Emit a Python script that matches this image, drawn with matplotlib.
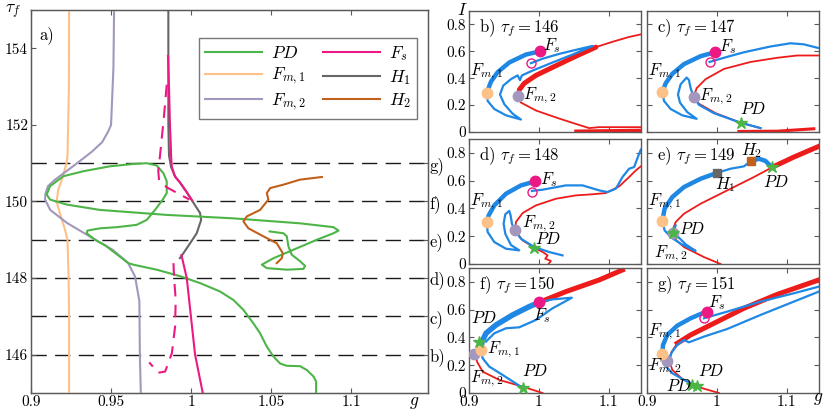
import matplotlib
matplotlib.use('Agg')
import matplotlib.pyplot as plt
from matplotlib.lines import Line2D

plt.rcParams['font.family'] = 'serif'
plt.rcParams['font.serif'] = ['cmr10', 'DejaVu Serif']
plt.rcParams['mathtext.fontset'] = 'cm'
plt.rcParams['axes.formatter.use_mathtext'] = True

# ---------------- panel a data (g, tau_f) ----------------
fm1_g = [0.9238, 0.9237, 0.9232, 0.9228, 0.9222, 0.9195, 0.917, 0.916, 0.918, 0.921, 0.9228, 0.9235, 0.9238, 0.9238]
fm1_tau = [155, 153, 152, 151.2, 151, 150.6, 150.3, 150, 149.7, 149.3, 149, 148, 147, 145]

fm2_g = [0.9519, 0.9515, 0.950, 0.9485, 0.9445, 0.938, 0.9288, 0.915, 0.9106, 0.909, 0.9088, 0.912, 0.9225,
         0.937, 0.951, 0.9606, 0.965, 0.9677, 0.968, 0.9686]
fm2_tau = [155, 153.5, 152, 151.85, 151.55, 151.3, 151, 150.57, 150.4, 150.2, 150.05, 149.78, 149.44,
           149.08, 148.74, 148.4, 148.04, 147.4, 146, 145]

fs_up_g = [0.9856, 0.9862, 0.9868, 0.9873, 0.9875, 0.988, 0.990, 0.993, 0.9975, 1.0006]
fs_up_tau = [153.8, 153, 152, 151.5, 151.2, 150.9, 150.65, 150.5, 150.23, 150.03]
fs_lo_g = [0.994, 0.9973, 1.0025, 1.0073]
fs_lo_tau = [148.6, 148, 146, 145]
fs_dash_up_g = [0.9848, 0.983, 0.9806, 0.9795, 0.980, 0.9848, 0.991, 0.999]
fs_dash_up_tau = [153.05, 152.2, 151.2, 150.8, 150.55, 150.37, 150.23, 150.05]
fs_dash_lo_g = [0.989, 0.9894, 0.9904, 0.990, 0.988, 0.9838, 0.9796, 0.9738]
fs_dash_lo_tau = [148.39, 148.0, 147.43, 146.73, 146.04, 145.56, 145.53, 145.8]

h1_g = [0.9858, 0.9858, 0.9862, 0.9875, 0.990, 0.993, 0.9975, 1.0025, 1.0056, 1.0063, 1.0035, 0.9994, 0.9952, 0.993]
h1_tau = [155, 152, 151.2, 150.9, 150.65, 150.5, 150.23, 149.9, 149.7, 149.52, 149.17, 148.91, 148.65, 148.52]

h2_g = [1.0817, 1.068, 1.0577, 1.0494, 1.0473, 1.0483, 1.0431, 1.0348, 1.0327, 1.0358, 1.0452, 1.0535,
        1.0573, 1.0567, 1.0535]
h2_tau = [150.64, 150.57, 150.44, 150.35, 150.22, 150.05, 149.78, 149.61, 149.48, 149.3, 149.09, 148.91,
          148.65, 148.52, 148.39]

pd_g = [1.0781, 1.0781, 1.0765, 1.0723, 1.0681, 1.0598, 1.0556, 1.0515, 1.0473, 1.0431, 1.0389, 1.0327,
        1.0264, 1.0181, 1.0056, 0.9931, 0.9785, 0.964, 0.9608, 0.9465, 0.9400, 0.9348, 0.9352, 0.9431,
        0.9536, 0.966, 0.9723, 0.9775, 0.9823, 0.9848, 0.9848, 0.9827, 0.9785, 0.9723, 0.964, 0.9494,
        0.9327, 0.9202, 0.9119, 0.9098, 0.9119, 0.9223, 0.9431, 0.9848, 1.0264, 1.0681, 1.0889, 1.0921,
        1.0889, 1.0785, 1.0639, 1.0515, 1.0442, 1.0473, 1.0598, 1.0702, 1.0712, 1.0681, 1.0629, 1.0608,
        1.0598, 1.0577, 1.049]
pd_tau = [145, 145.3, 145.43, 145.6, 145.7, 145.71, 145.77, 145.95, 146.21, 146.56, 146.82, 147.17,
          147.43, 147.65, 147.87, 148.05, 148.22, 148.35, 148.39, 148.85, 149.0, 149.17, 149.24, 149.3,
          149.33, 149.39, 149.52, 149.78, 150.05, 150.22, 150.53, 150.74, 150.94, 151.0, 150.98, 150.92,
          150.79, 150.66, 150.4, 150.18, 150.05, 149.92, 149.78, 149.65, 149.56, 149.43, 149.33, 149.24,
          149.17, 149.0, 148.74, 148.52, 148.35, 148.26, 148.22, 148.24, 148.32, 148.44, 148.61, 148.83,
          149.09, 149.17, 149.22]

cut_tau = [146, 147, 148, 149, 150, 151]
cut_labels = ['b)', 'c)', 'd)', 'e)', 'f)', 'g)']

# ---------------- small panels data (g, I) ----------------
# b) tau_f = 146
b_red_up_g = [0.9695, 0.9719, 0.9790, 0.9957, 1.0195, 1.0529, 1.0814, 1.1052, 1.1290, 1.1457]
b_red_up_I = [0.271, 0.314, 0.362, 0.421, 0.481, 0.564, 0.631, 0.671, 0.707, 0.726]
b_red_lo_g = [0.9695, 0.9743, 0.9957, 1.0290, 1.0529, 1.0719, 1.0862, 1.1457]
b_red_lo_I = [0.271, 0.219, 0.160, 0.100, 0.060, 0.029, 0.036, 0.036]
b_red_bot_g = [1.0529, 1.1457]
b_red_bot_I = [0.006, 0.012]
b_blue_thick_g = [1.0014, 0.9814, 0.9576, 0.9410, 0.9314, 0.9252]
b_blue_thick_I = [0.600, 0.576, 0.517, 0.445, 0.374, 0.290]
b_blue_g = [0.9252, 0.9267, 0.9362, 0.9529, 0.9743, 0.9624, 0.9505, 0.9443, 0.9490, 0.9600, 0.9695,
            0.9729, 0.9757, 0.9910, 1.0195, 1.0481, 1.0767, 1.0576, 1.0290, 1.0052, 0.9886]
b_blue_I = [0.290, 0.231, 0.171, 0.124, 0.093, 0.136, 0.207, 0.279, 0.345, 0.393, 0.421,
            0.386, 0.421, 0.457, 0.517, 0.576, 0.640, 0.617, 0.581, 0.545, 0.512]

# c) tau_f = 147
c_red_up_g = [0.9671, 0.971, 0.9838, 1.01, 1.0481, 1.0862, 1.1148, 1.1457]
c_red_up_I = [0.267, 0.326, 0.393, 0.469, 0.521, 0.552, 0.569, 0.569]
c_red_lo_g = [0.9671, 0.9743, 0.9981, 1.0338, 1.0624]
c_red_lo_I = [0.262, 0.21, 0.14, 0.069, 0.029]
c_red_bot_g = [1.0314, 1.0862, 1.1386]
c_red_bot_I = [0.004, 0.006, 0.024]
c_blue_thick_g = [0.9971, 0.9767, 0.9529, 0.9362, 0.9267, 0.9219]
c_blue_thick_I = [0.593, 0.564, 0.505, 0.433, 0.362, 0.298]
c_blue_g = [0.9219, 0.9243, 0.9338, 0.9505, 0.9710, 0.9576, 0.9471, 0.9443, 0.9481, 0.9567, 0.96,
            0.9624, 0.9662, 0.9743, 0.9957, 1.0338, 1.0624]
c_blue_I = [0.298, 0.231, 0.171, 0.124, 0.098, 0.148, 0.219, 0.279, 0.355, 0.405, 0.386,
            0.326, 0.267, 0.202, 0.140, 0.069, 0.029]
c_blue_top_g = [0.9895, 1.01, 1.0386, 1.0767, 1.1052, 1.1243, 1.1457]
c_blue_top_I = [0.521, 0.552, 0.593, 0.636, 0.660, 0.652, 0.624]

# d) tau_f = 148
d_red_up_g = [0.9662, 0.9671, 0.9767, 0.9957, 1.0243, 1.0529, 1.0767, 1.0957, 1.1148, 1.129, 1.1386, 1.1457]
d_red_up_I = [0.242, 0.302, 0.367, 0.422, 0.470, 0.494, 0.502, 0.511, 0.559, 0.626, 0.674, 0.703]
d_red_lo_g = [0.9662, 0.9767, 0.9933, 1.0062, 1.0124, 1.009, 1.0171, 1.0138]
d_red_lo_I = [0.238, 0.170, 0.118, 0.084, 0.062, 0.038, 0.022, 0.0]
d_blue_thick_g = [0.9948, 0.9743, 0.9529, 0.9362, 0.9281, 0.9252]
d_blue_thick_I = [0.595, 0.566, 0.506, 0.422, 0.350, 0.302]
d_blue_g = [0.9252, 0.9267, 0.9362, 0.9529, 0.9719, 0.96, 0.9519, 0.9495, 0.9519, 0.9576, 0.9595,
            0.9614, 0.9652, 0.9743, 0.9933, 1.0148, 1.0338]
d_blue_I = [0.302, 0.230, 0.158, 0.110, 0.098, 0.137, 0.218, 0.290, 0.358, 0.382, 0.350,
            0.290, 0.242, 0.182, 0.122, 0.086, 0.062]
d_blue_top_g = [0.99, 1.0052, 1.0386, 1.0624, 1.0862, 1.0981, 1.11, 1.1195, 1.129, 1.1362, 1.1433, 1.1457]
d_blue_top_I = [0.526, 0.535, 0.566, 0.566, 0.530, 0.518, 0.542, 0.626, 0.686, 0.698, 0.794, 0.823]

# e) tau_f = 149
e_red_g = [1.0052, 0.9814, 0.9529, 0.9395, 0.9362, 0.941, 0.9529, 0.9767, 1.0148, 1.0529, 1.0781, 1.11, 1.1457]
e_red_I = [0.0, 0.050, 0.122, 0.182, 0.238, 0.302, 0.362, 0.434, 0.530, 0.626, 0.694, 0.770, 0.847]
e_blue_thick_g = [0.9219, 0.9252, 0.9362, 0.9529, 0.9767, 0.9995]
e_blue_thick_I = [0.310, 0.398, 0.482, 0.554, 0.614, 0.655]
e_blue_mid_g = [0.9995, 1.0195, 1.0386, 1.0481]
e_blue_mid_I = [0.655, 0.686, 0.703, 0.739]
e_blue_thick2_g = [1.0481, 1.06, 1.0695, 1.0781]
e_blue_thick2_I = [0.739, 0.758, 0.742, 0.698]
e_blue_lo_g = [0.9219, 0.9252, 0.9338, 0.9481, 0.9624, 0.9695, 0.9552, 0.9433, 0.9395, 0.941]
e_blue_lo_I = [0.310, 0.242, 0.194, 0.146, 0.110, 0.094, 0.142, 0.202, 0.254, 0.278]

# f) tau_f = 150
f_red_g = [1.0052, 0.9767, 0.9433, 0.9195, 0.9114, 0.91, 0.9148, 0.9267, 0.9481, 0.9767, 1.0005,
           1.0386, 1.0862, 1.1195]
f_red_I = [0.0, 0.046, 0.094, 0.154, 0.226, 0.293, 0.358, 0.430, 0.514, 0.598, 0.653, 0.730, 0.814, 0.886]
f_blue_thick_g = [0.9171, 0.9186, 0.9243, 0.9386, 0.9624, 0.9862, 1.0005]
f_blue_thick_I = [0.31, 0.370, 0.430, 0.490, 0.562, 0.622, 0.653]
f_blue_loop_g = [1.0005, 1.0195, 1.0471, 1.0386, 1.0195, 0.9957, 0.9719, 0.9529, 0.9362, 0.9243]
f_blue_loop_I = [0.653, 0.674, 0.686, 0.662, 0.610, 0.526, 0.473, 0.466, 0.430, 0.370]
f_blue_lo_g = [0.9171, 0.9195, 0.929, 0.9481, 0.9776]
f_blue_lo_I = [0.31, 0.250, 0.190, 0.130, 0.034]

# g) tau_f = 151
g_red_g = [1.0029, 0.9767, 0.9505, 0.9362, 0.9324, 0.9348, 0.9433, 0.9624, 0.991, 1.0386, 1.0862, 1.1457]
g_red_I = [0.0, 0.038, 0.101, 0.166, 0.226, 0.293, 0.358, 0.418, 0.490, 0.610, 0.710, 0.814]
g_blue_thick_g = [0.9219, 0.9229, 0.929, 0.9433, 0.9624, 0.979, 0.9862]
g_blue_thick_I = [0.278, 0.346, 0.418, 0.485, 0.538, 0.574, 0.586]
g_blue_a_g = [0.9814, 1.0148, 1.0624, 1.11, 1.1457]
g_blue_a_I = [0.538, 0.586, 0.658, 0.718, 0.766]
g_blue_b_g = [0.929, 0.9362, 0.9433, 0.9529, 0.96, 0.9814, 1.0148, 1.0624, 1.11, 1.1457]
g_blue_b_I = [0.230, 0.298, 0.346, 0.382, 0.365, 0.406, 0.461, 0.562, 0.658, 0.730]
g_blue_lo_g = [0.9219, 0.9252, 0.9362, 0.9529, 0.9671, 0.9757]
g_blue_lo_I = [0.278, 0.202, 0.142, 0.094, 0.058, 0.043]

# special points per panel: (g, I)
pts = {
    'b': dict(Fs=(1.0014, 0.60), Fso=(0.9886, 0.512), Fm1=(0.9252, 0.29), Fm2=(0.9695, 0.271)),
    'c': dict(Fs=(0.9971, 0.593), Fso=(0.9895, 0.521), Fm1=(0.9219, 0.298), Fm2=(0.9671, 0.262),
              PD=[(1.0338, 0.069)]),
    'd': dict(Fs=(0.9948, 0.595), Fso=(0.99, 0.522), Fm1=(0.9252, 0.302), Fm2=(0.9652, 0.242),
              PD=[(0.9933, 0.115)]),
    'e': dict(Fm1=(0.9219, 0.31), Fm2=(0.9376, 0.22), H1=(0.9995, 0.655), H2=(1.0481, 0.742),
              PD=[(0.9376, 0.22), (1.0781, 0.698)]),
    'f': dict(Fs=(1.0005, 0.653), Fm1=(0.9171, 0.31), Fm2=(0.9076, 0.281),
              PD=[(0.9148, 0.37), (0.9776, 0.034)]),
    'g': dict(Fs=(0.9862, 0.586), Fso=(0.9814, 0.538), Fm1=(0.9219, 0.278), Fm2=(0.929, 0.230),
              PD=[(0.9648, 0.058), (0.9719, 0.053)]),
}
panel_tau = {'b': 146, 'c': 147, 'd': 148, 'e': 149, 'f': 150, 'g': 151}

# label positions (g, I, text)
labels = {
    'b': [(1.006, 0.645, r'$F_s$'), (0.902, 0.45, r'$F_{m,1}$'), (0.977, 0.27, r'$F_{m,2}$')],
    'c': [(1.003, 0.635, r'$F_s$'), (0.902, 0.45, r'$F_{m,1}$'), (0.974, 0.26, r'$F_{m,2}$'),
          (1.033, 0.17, r'$PD$')],
    'd': [(1.002, 0.605, r'$F_s$'), (0.902, 0.45, r'$F_{m,1}$'), (0.976, 0.29, r'$F_{m,2}$'),
          (0.995, 0.18, r'$PD$')],
    'e': [(1.034, 0.82, r'$H_2$'), (0.9975, 0.57, r'$H_1$'), (1.066, 0.59, r'$PD$'),
          (0.902, 0.45, r'$F_{m,1}$'), (0.946, 0.255, r'$PD$'), (0.910, 0.075, r'$F_{m,2}$')],
    'f': [(0.991, 0.56, r'$F_s$'), (0.903, 0.54, r'$PD$'), (0.926, 0.31, r'$F_{m,1}$'),
          (0.902, 0.10, r'$F_{m,2}$'), (0.976, 0.155, r'$PD$')],
    'g': [(0.987, 0.65, r'$F_s$'), (0.902, 0.44, r'$F_{m,1}$'), (0.902, 0.19, r'$F_{m,2}$'),
          (0.973, 0.155, r'$PD$'), (0.927, 0.05, r'$PD$')],
}

# ---------------- styles ----------------
C_PD = '#4db548'
C_FM1 = '#fdc086'
C_FM2 = '#a397bd'
C_FS = '#ec1984'
C_H1 = '#666666'
C_H2 = '#c0601a'
C_BLUE = '#1f88e5'
C_RED = '#ee1b1b'
SPINE = '#5a5a5a'

fig = plt.figure(figsize=(8.3, 4.15), dpi=100)
W, H = 830.0, 415.0


def rect(l, t, r, b):
    return [l / W, 1 - b / H, (r - l) / W, (b - t) / H]


def style(ax):
    for s in ax.spines.values():
        s.set_color(SPINE)
        s.set_linewidth(1.0)
    ax.tick_params(direction='in', top=True, right=True, length=3.5, width=0.8,
                   color=SPINE, labelsize=11, pad=2)


# ---------------- panel a ----------------
axa = fig.add_axes(rect(31, 10, 428, 393))
style(axa)
axa.tick_params(right=False)
for t in cut_tau:
    axa.axhline(t, color='#1a1a1a', lw=1.0, ls=(0, (11, 6)), zorder=1)
axa.plot(h1_g, h1_tau, color=C_H1, lw=1.5, zorder=3)
axa.plot(fm1_g, fm1_tau, color=C_FM1, lw=1.5, zorder=3)
axa.plot(fm2_g, fm2_tau, color=C_FM2, lw=1.5, zorder=3)
axa.plot(pd_g, pd_tau, color=C_PD, lw=1.5, zorder=3)
axa.plot(h2_g, h2_tau, color=C_H2, lw=1.5, zorder=3)
axa.plot(fs_up_g, fs_up_tau, color=C_FS, lw=1.5, zorder=4)
axa.plot(fs_lo_g, fs_lo_tau, color=C_FS, lw=1.5, zorder=4)
axa.plot(fs_dash_up_g, fs_dash_up_tau, color=C_FS, lw=1.5, ls=(0, (6, 4)), zorder=4)
axa.plot(fs_dash_lo_g, fs_dash_lo_tau, color=C_FS, lw=1.5, ls=(0, (6, 4)), zorder=4)
axa.set_xlim(0.9, 1.148)
axa.set_ylim(145, 155)
axa.set_xticks([0.9, 0.95, 1.0, 1.05, 1.1])
axa.set_xticklabels(['0.9', '0.95', '1', '1.05', '1.1'])
axa.set_yticks([146, 148, 150, 152, 154])
axa.set_yticklabels(['146', '148', '150', '152', '154'])
axa.text(0.022, 0.935, 'a)', transform=axa.transAxes, fontsize=12, va='center', ha='left')

handles = [Line2D([], [], color=C_PD, lw=1.5), Line2D([], [], color=C_FM1, lw=1.5),
           Line2D([], [], color=C_FM2, lw=1.5), Line2D([], [], color=C_FS, lw=1.5),
           Line2D([], [], color=C_H1, lw=1.5), Line2D([], [], color=C_H2, lw=1.5)]
names = [r'$PD$', r'$F_{m,1}$', r'$F_{m,2}$', r'$F_s$', r'$H_1$', r'$H_2$']
leg = axa.legend(handles, names, ncol=2, loc='upper left', bbox_to_anchor=(0.423, 0.926),
                 borderaxespad=0, fontsize=12.5, frameon=True, fancybox=False,
                 handlelength=3.3, handletextpad=0.5, columnspacing=1.0, labelspacing=0.25,
                 borderpad=0.35)
leg.get_frame().set_edgecolor('#555555')
leg.get_frame().set_linewidth(1.0)

ax2 = axa.twinx()
ax2.set_ylim(145, 155)
ax2.set_yticks(cut_tau)
ax2.set_yticklabels(cut_labels)
ax2.tick_params(direction='in', length=3.5, width=0.8, color=SPINE, labelsize=12, pad=1)
for s in ax2.spines.values():
    s.set_color(SPINE)

# ---------------- small panels ----------------
cols = [(469, 641), (647, 819)]
rows = [(11, 132), (139, 264), (268, 393)]
order = [['b', 'c'], ['d', 'e'], ['f', 'g']]
axes = {}
for r, (t, b) in enumerate(rows):
    for c, (l, rr) in enumerate(cols):
        key = order[r][c]
        ax = fig.add_axes(rect(l, t, rr, b))
        style(ax)
        ax.set_xlim(0.9, 1.146)
        ax.set_ylim(0, 0.9)
        ax.set_xticks([0.9, 1.0, 1.1])
        ax.set_yticks([0, 0.2, 0.4, 0.6, 0.8])
        if c == 0:
            ax.set_yticklabels(['0', '0.2', '0.4', '0.6', '0.8'])
        else:
            ax.set_yticklabels([])
        if r == 2:
            ax.set_xticklabels(['0.9', '1', '1.1'])
        else:
            ax.set_xticklabels([])
        ax.text(0.915, 0.775, key + r') $\tau_f=%d$' % panel_tau[key], fontsize=12,
                va='center', ha='left')
        axes[key] = ax

LT, LK, BT, BK = 1.3, 3.6, 1.6, 3.2

ax = axes['b']
ax.plot(b_red_up_g, b_red_up_I, color=C_RED, lw=LT)
ax.plot(b_red_up_g[1:7], b_red_up_I[1:7], color=C_RED, lw=LK, solid_capstyle='round')
ax.plot(b_red_lo_g, b_red_lo_I, color=C_RED, lw=LT)
ax.plot(b_red_bot_g, b_red_bot_I, color=C_RED, lw=2.4)
ax.plot(b_blue_g, b_blue_I, color=C_BLUE, lw=BT)
ax.plot(b_blue_thick_g, b_blue_thick_I, color=C_BLUE, lw=BK, solid_capstyle='round')

ax = axes['c']
ax.plot(c_red_up_g, c_red_up_I, color=C_RED, lw=LT)
ax.plot(c_red_lo_g, c_red_lo_I, color=C_RED, lw=LT)
ax.plot(c_red_bot_g, c_red_bot_I, color=C_RED, lw=2.2)
ax.plot(c_blue_g, c_blue_I, color=C_BLUE, lw=BT)
ax.plot(c_blue_top_g, c_blue_top_I, color=C_BLUE, lw=BT)
ax.plot(c_blue_thick_g, c_blue_thick_I, color=C_BLUE, lw=BK, solid_capstyle='round')

ax = axes['d']
ax.plot(d_red_up_g, d_red_up_I, color=C_RED, lw=LT)
ax.plot(d_red_lo_g, d_red_lo_I, color=C_RED, lw=LT)
ax.plot(d_blue_g, d_blue_I, color=C_BLUE, lw=BT)
ax.plot(d_blue_top_g, d_blue_top_I, color=C_BLUE, lw=BT)
ax.plot(d_blue_thick_g, d_blue_thick_I, color=C_BLUE, lw=BK, solid_capstyle='round')

ax = axes['e']
ax.plot(e_red_g, e_red_I, color=C_RED, lw=LT)
ax.plot(e_red_g[10:], e_red_I[10:], color=C_RED, lw=LK)
ax.plot(e_blue_lo_g, e_blue_lo_I, color=C_BLUE, lw=BT)
ax.plot(e_blue_mid_g, e_blue_mid_I, color=C_BLUE, lw=BT)
ax.plot(e_blue_thick_g, e_blue_thick_I, color=C_BLUE, lw=BK, solid_capstyle='round')
ax.plot(e_blue_thick2_g, e_blue_thick2_I, color=C_BLUE, lw=BK, solid_capstyle='round')

ax = axes['f']
ax.plot(f_red_g, f_red_I, color=C_RED, lw=LT)
ax.plot(f_red_g[10:], f_red_I[10:], color=C_RED, lw=LK)
ax.plot(f_blue_lo_g, f_blue_lo_I, color=C_BLUE, lw=BT)
ax.plot(f_blue_loop_g, f_blue_loop_I, color=C_BLUE, lw=BT)
ax.plot(f_blue_thick_g, f_blue_thick_I, color=C_BLUE, lw=BK + 0.8, solid_capstyle='round')

ax = axes['g']
ax.plot(g_red_g, g_red_I, color=C_RED, lw=LT)
ax.plot(g_red_g[6:], g_red_I[6:], color=C_RED, lw=LK)
ax.plot(g_blue_a_g, g_blue_a_I, color=C_BLUE, lw=BT)
ax.plot(g_blue_b_g, g_blue_b_I, color=C_BLUE, lw=BT)
ax.plot(g_blue_lo_g, g_blue_lo_I, color=C_BLUE, lw=BT)
ax.plot(g_blue_thick_g, g_blue_thick_I, color=C_BLUE, lw=BK, solid_capstyle='round')

for key, ax in axes.items():
    p = pts[key]
    if 'Fm2' in p:
        ax.plot(*p['Fm2'], 'o', color=C_FM2, ms=7.5, zorder=5)
    if 'Fm1' in p:
        ax.plot(*p['Fm1'], 'o', color=C_FM1, ms=7.5, zorder=5)
    if 'Fs' in p:
        ax.plot(*p['Fs'], 'o', color=C_FS, ms=7.5, zorder=5)
    if 'Fso' in p:
        ax.plot(*p['Fso'], 'o', mfc='none', mec=C_FS, mew=1.0, ms=6.5, zorder=5)
    if 'H1' in p:
        ax.plot(*p['H1'], 's', color=C_H1, ms=5.5, zorder=5)
    if 'H2' in p:
        ax.plot(*p['H2'], 's', color=C_H2, ms=5.5, zorder=5)
    for q in p.get('PD', []):
        ax.plot(*q, '*', color=C_PD, ms=9, zorder=6)
    for (x, y, s) in labels[key]:
        ax.text(x, y, s, fontsize=12, va='center', ha='left', zorder=7)

fig.text(13 / W, 1 - 12 / H, r'$\tau_f$', fontsize=12.5, ha='center', va='center')
fig.text(462 / W, 1 - 10 / H, r'$I$', fontsize=12.5, ha='center', va='center')
fig.text(414 / W, 1 - 403 / H, r'$g$', fontsize=12.5, ha='center', va='center')
fig.text(818 / W, 1 - 399 / H, r'$g$', fontsize=12.5, ha='center', va='center')

fig.savefig('out.png', dpi=100)
